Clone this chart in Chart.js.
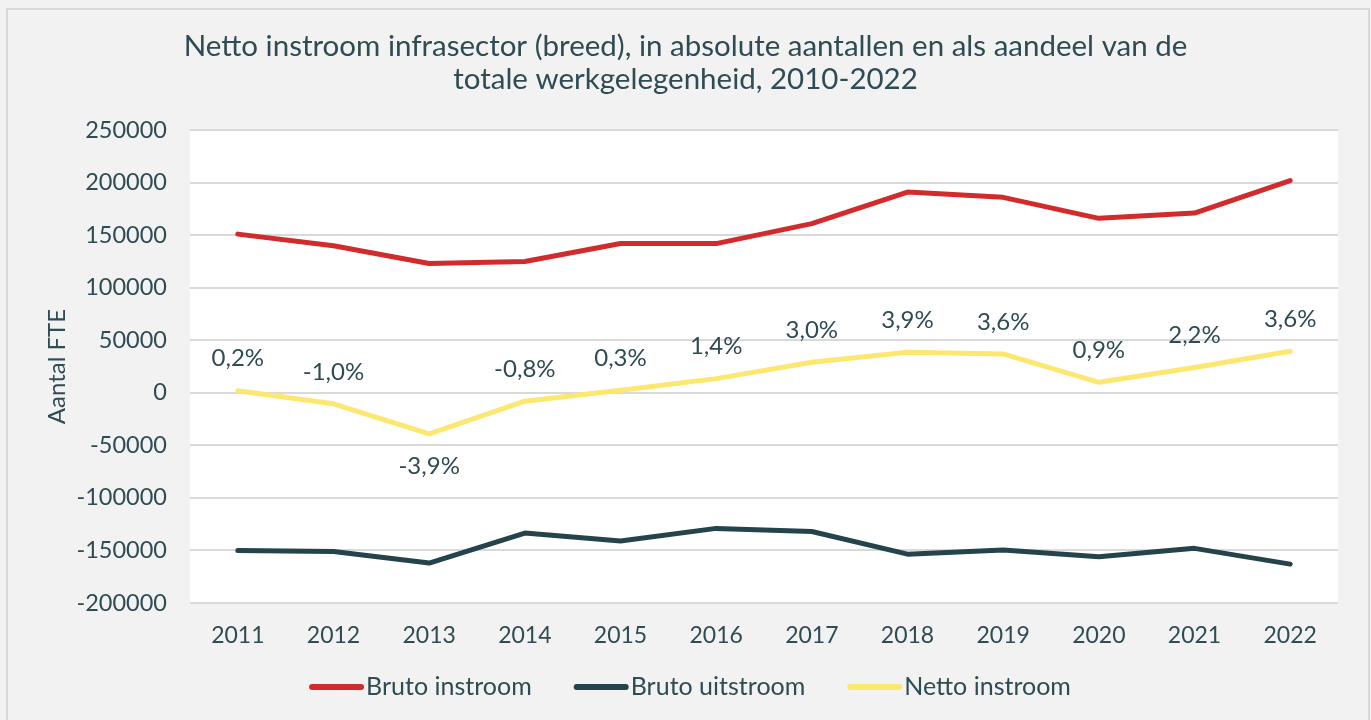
<!DOCTYPE html>
<html>
<head>
<meta charset="utf-8">
<script src="https://cdn.jsdelivr.net/npm/chart.js@4.4.1/dist/chart.umd.min.js"></script>
<style>
  html, body { margin: 0; padding: 0; background: #f2f2f2; }
  #frame { position: absolute; left: 6px; top: 8px; width: 1360px; height: 720px; border: 2px solid #d9d9d9; border-bottom: none; }
  #wrap { position: absolute; left: 0; top: 0; width: 1371px; height: 720px; }
</style>
</head>
<body>
<div id="frame"></div>
<div id="wrap"><canvas id="chart" width="1371" height="720"></canvas></div>
<script>
// jaren en reeksen
const jaren = ['2011', '2012', '2013', '2014', '2015', '2016', '2017', '2018', '2019', '2020', '2021', '2022'];
const brutoInstroom = [151000, 140000, 123000, 125000, 142000, 142000, 161000, 191000, 186000, 166000, 171000, 202000];
const brutoUitstroom = [-150000, -151000, -162000, -133500, -141000, -129000, -132000, -153500, -149500, -156000, -148000, -163000];
const nettoInstroom = [2000, -10500, -39000, -8000, 2500, 13500, 29000, 38500, 37000, 10000, 24000, 39500];
const nettoAandeel = ['0,2%', '-1,0%', '-3,9%', '-0,8%', '0,3%', '1,4%', '3,0%', '3,9%', '3,6%', '0,9%', '2,2%', '3,6%'];
const labelPlek = ['boven', 'boven', 'onder', 'boven', 'boven', 'boven', 'boven', 'boven', 'boven', 'boven', 'boven', 'boven'];
const yTicks = [250000, 200000, 150000, 100000, 50000, 0, -50000, -100000, -150000, -200000];

const tekstKleur = '#2f4b53';
const fontNaam = 'Lato';

// witte plot-achtergrond
const plotAchtergrond = {
    id: 'plotAchtergrond',
    beforeDraw(chart) {
        const a = chart.chartArea;
        const ctx = chart.ctx;
        ctx.save();
        ctx.fillStyle = '#ffffff';
        ctx.fillRect(a.left, a.top, a.right - a.left, a.bottom - a.top);
        ctx.restore();
    }
};

// percentage-labels bij de netto lijn
const percentLabels = {
    id: 'percentLabels',
    afterDatasetsDraw(chart) {
        const meta = chart.getDatasetMeta(2);
        const ctx = chart.ctx;
        ctx.save();
        ctx.font = '24px ' + fontNaam;
        ctx.fillStyle = tekstKleur;
        ctx.textAlign = 'center';
        ctx.textBaseline = 'middle';
        meta.data.forEach((pt, i) => {
            const dy = labelPlek[i] === 'onder' ? 32 : -32;
            ctx.fillText(nettoAandeel[i], pt.x, pt.y + dy);
        });
        ctx.restore();
    }
};

// legenda zoals in Excel: korte lijn, tekst er direct achter
const excelLegenda = {
    id: 'excelLegenda',
    afterDraw(chart) {
        const ctx = chart.ctx;
        const sets = chart.data.datasets;
        const lijnLengte = 52, gat = 5, tussen = 42, y = 687;
        ctx.save();
        ctx.font = '25px ' + fontNaam;
        const breedtes = sets.map(ds => ctx.measureText(ds.label).width);
        const totaal = breedtes.reduce((s, b) => s + lijnLengte + gat + b, 0) + tussen * (sets.length - 1);
        let x = 690 - totaal / 2;
        sets.forEach((ds, i) => {
            ctx.strokeStyle = ds.borderColor;
            ctx.lineWidth = 6;
            ctx.lineCap = 'round';
            ctx.beginPath();
            ctx.moveTo(x + 3, y);
            ctx.lineTo(x + lijnLengte, y);
            ctx.stroke();
            x += lijnLengte + gat;
            ctx.fillStyle = tekstKleur;
            ctx.textAlign = 'left';
            ctx.textBaseline = 'middle';
            ctx.fillText(ds.label, x, y);
            x += breedtes[i] + tussen;
        });
        ctx.restore();
    }
};

const lijn = (label, data, kleur) => ({
    label: label,
    data: data,
    borderColor: kleur,
    backgroundColor: kleur,
    borderWidth: 5,
    borderCapStyle: 'round',
    borderJoinStyle: 'round',
    pointRadius: 0,
    tension: 0
});

new Chart(document.getElementById('chart'), {
    type: 'line',
    data: {
        labels: jaren,
        datasets: [
            lijn('Bruto instroom', brutoInstroom, '#d22b2b'),
            lijn('Bruto uitstroom', brutoUitstroom, '#24434a'),
            lijn('Netto instroom', nettoInstroom, '#fce871')
        ]
    },
    options: {
        responsive: false,
        animation: false,
        layout: { padding: { left: 33, right: 33, top: 0, bottom: 76 } },
        plugins: {
            title: {
                display: true,
                text: ['Netto instroom infrasector (breed), in absolute aantallen en als aandeel van de', 'totale werkgelegenheid, 2010-2022'],
                color: tekstKleur,
                font: { family: fontNaam, size: 29.5, weight: 'normal', lineHeight: 1.12 },
                padding: { top: 30, bottom: 34 }
            },
            legend: { display: false },
            tooltip: { enabled: false }
        },
        scales: {
            x: {
                offset: true,
                grid: { display: false, drawTicks: false },
                border: { display: false },
                ticks: { color: tekstKleur, font: { family: fontNaam, size: 23 }, padding: 19 },
                afterFit(scale) { scale.height = 41; }
            },
            y: {
                min: -200000,
                max: 250000,
                afterBuildTicks(scale) { scale.ticks = yTicks.map(v => ({ value: v })); },
                grid: { color: '#d9d9d9', lineWidth: 2, drawTicks: false },
                border: { display: false },
                ticks: {
                    color: tekstKleur,
                    font: { family: fontNaam, size: 23.5 },
                    padding: 23,
                    callback: v => String(v)
                },
                title: {
                    display: true,
                    text: 'Aantal FTE',
                    color: tekstKleur,
                    font: { family: fontNaam, size: 24 },
                    padding: { top: 10, bottom: 0 }
                },
                afterFit(scale) { scale.width = 157; }
            }
        }
    },
    plugins: [plotAchtergrond, percentLabels, excelLegenda]
});
</script>
</body>
</html>
